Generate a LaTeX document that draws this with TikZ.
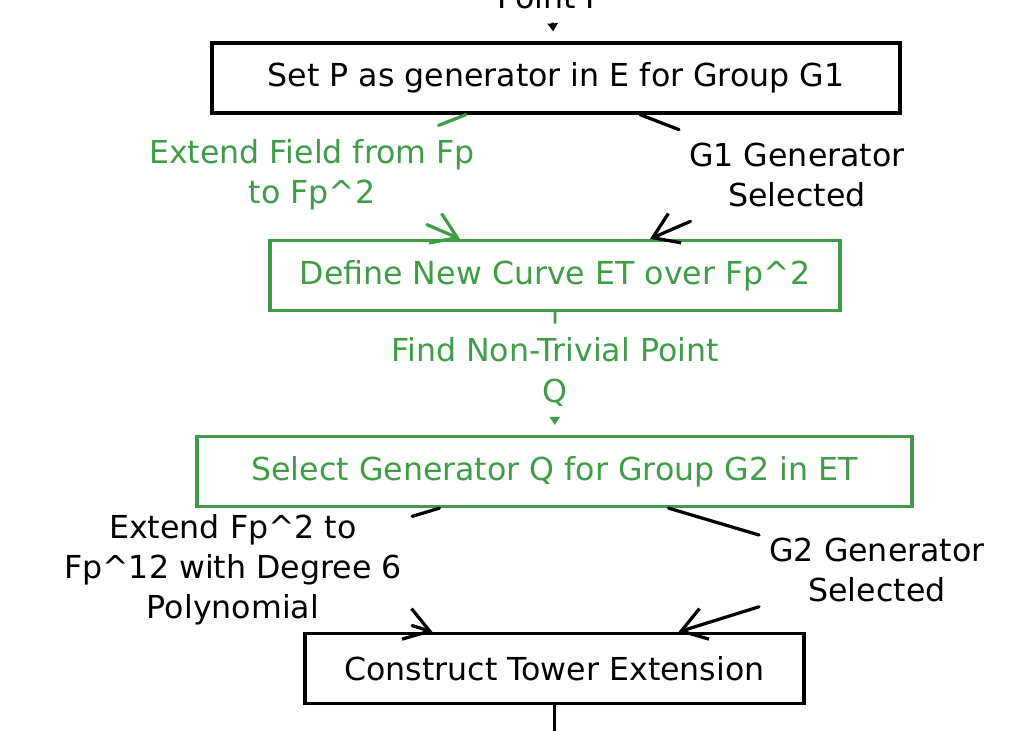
\documentclass[tikz,border=0pt]{standalone}
\usepackage{fontspec}
\setmainfont{DejaVu Sans}
\usetikzlibrary{arrows.meta}
\usetikzlibrary{positioning}
\definecolor{flowgreen}{HTML}{409C48}

\begin{document}
\begin{tikzpicture}[
      x=0.025cm, y=-0.025cm, >={Straight Barb[length=0.6cm,width=0.8cm]},
      box/.style={draw, line width=2.3pt, minimum height=1.75cm, inner sep=0pt},
      gbox/.style={box, draw=flowgreen, text=flowgreen},
      lab/.style={align=center, inner xsep=0.25cm, inner ysep=0.35cm},
      glab/.style={lab, text=flowgreen},
      link/.style={->, line width=2.3pt, line cap=round},
      glink/.style={link, draw=flowgreen},
      tip/.style={-{Triangle[length=0.2cm,width=0.25cm]}, line width=2pt, shorten >=0.25cm},
      every node/.style={font=\fontsize{22.5}{28.5}\selectfont}]

      \useasboundingbox (0,0) rectangle (1036,730);

      % boxes
      \node[box, minimum width=17.2cm] (setp) at (556,78) {Set P as generator in E for Group G1};
      \node[gbox, minimum width=14.25cm] (defcurve) at (555,275.5) {Define New Curve ET over Fp\textasciicircum 2};
      \node[gbox, minimum width=17.875cm] (selq) at (554.5,471.5) {Select Generator Q for Group G2 in ET};
      \node[box, minimum width=12.475cm] (tower) at (554.5,668.5) {Construct Tower Extension};

      % edge labels
      \node[lab, anchor=base] (lpointp) at (551,8) {Point P};
      \node[glab] (lfield) at (312,175) {Extend Field from Fp\\to Fp\textasciicircum 2};
      \node[lab] (lgone) at (797,175) {G1 Generator\\Selected};
      \node[glab] (lpointq) at (555,372) {Find Non-Trivial Point\\Q};
      \node[lab] (lextend) at (233,570) {Extend Fp\textasciicircum 2 to\\Fp\textasciicircum 12 with Degree 6\\Polynomial};
      \node[lab] (lgtwo) at (877,570) {G2 Generator\\Selected};
      \coordinate (out) at (554.5,760);

      % edges
      \draw[tip] (lpointp) -- (setp);
      \draw[glink] ([xshift=-2.25cm]setp.south) -- (lfield) -- ([xshift=-2.375cm]defcurve.north);
      \draw[link] ([xshift=2.1cm]setp.south) -- (lgone) -- ([xshift=2.375cm]defcurve.north);
      \draw[tip, draw=flowgreen, fill=flowgreen] (defcurve) -- (lpointq) -- (selq);
      \draw[link] ([xshift=-2.875cm]selq.south) -- (lextend) -- ([xshift=-3.05cm]tower.north);
      \draw[link] ([xshift=2.85cm]selq.south) -- (lgtwo) -- ([xshift=3.1cm]tower.north);
      \draw[line width=2.3pt] (tower) -- (out);
    \end{tikzpicture}
\end{document}
